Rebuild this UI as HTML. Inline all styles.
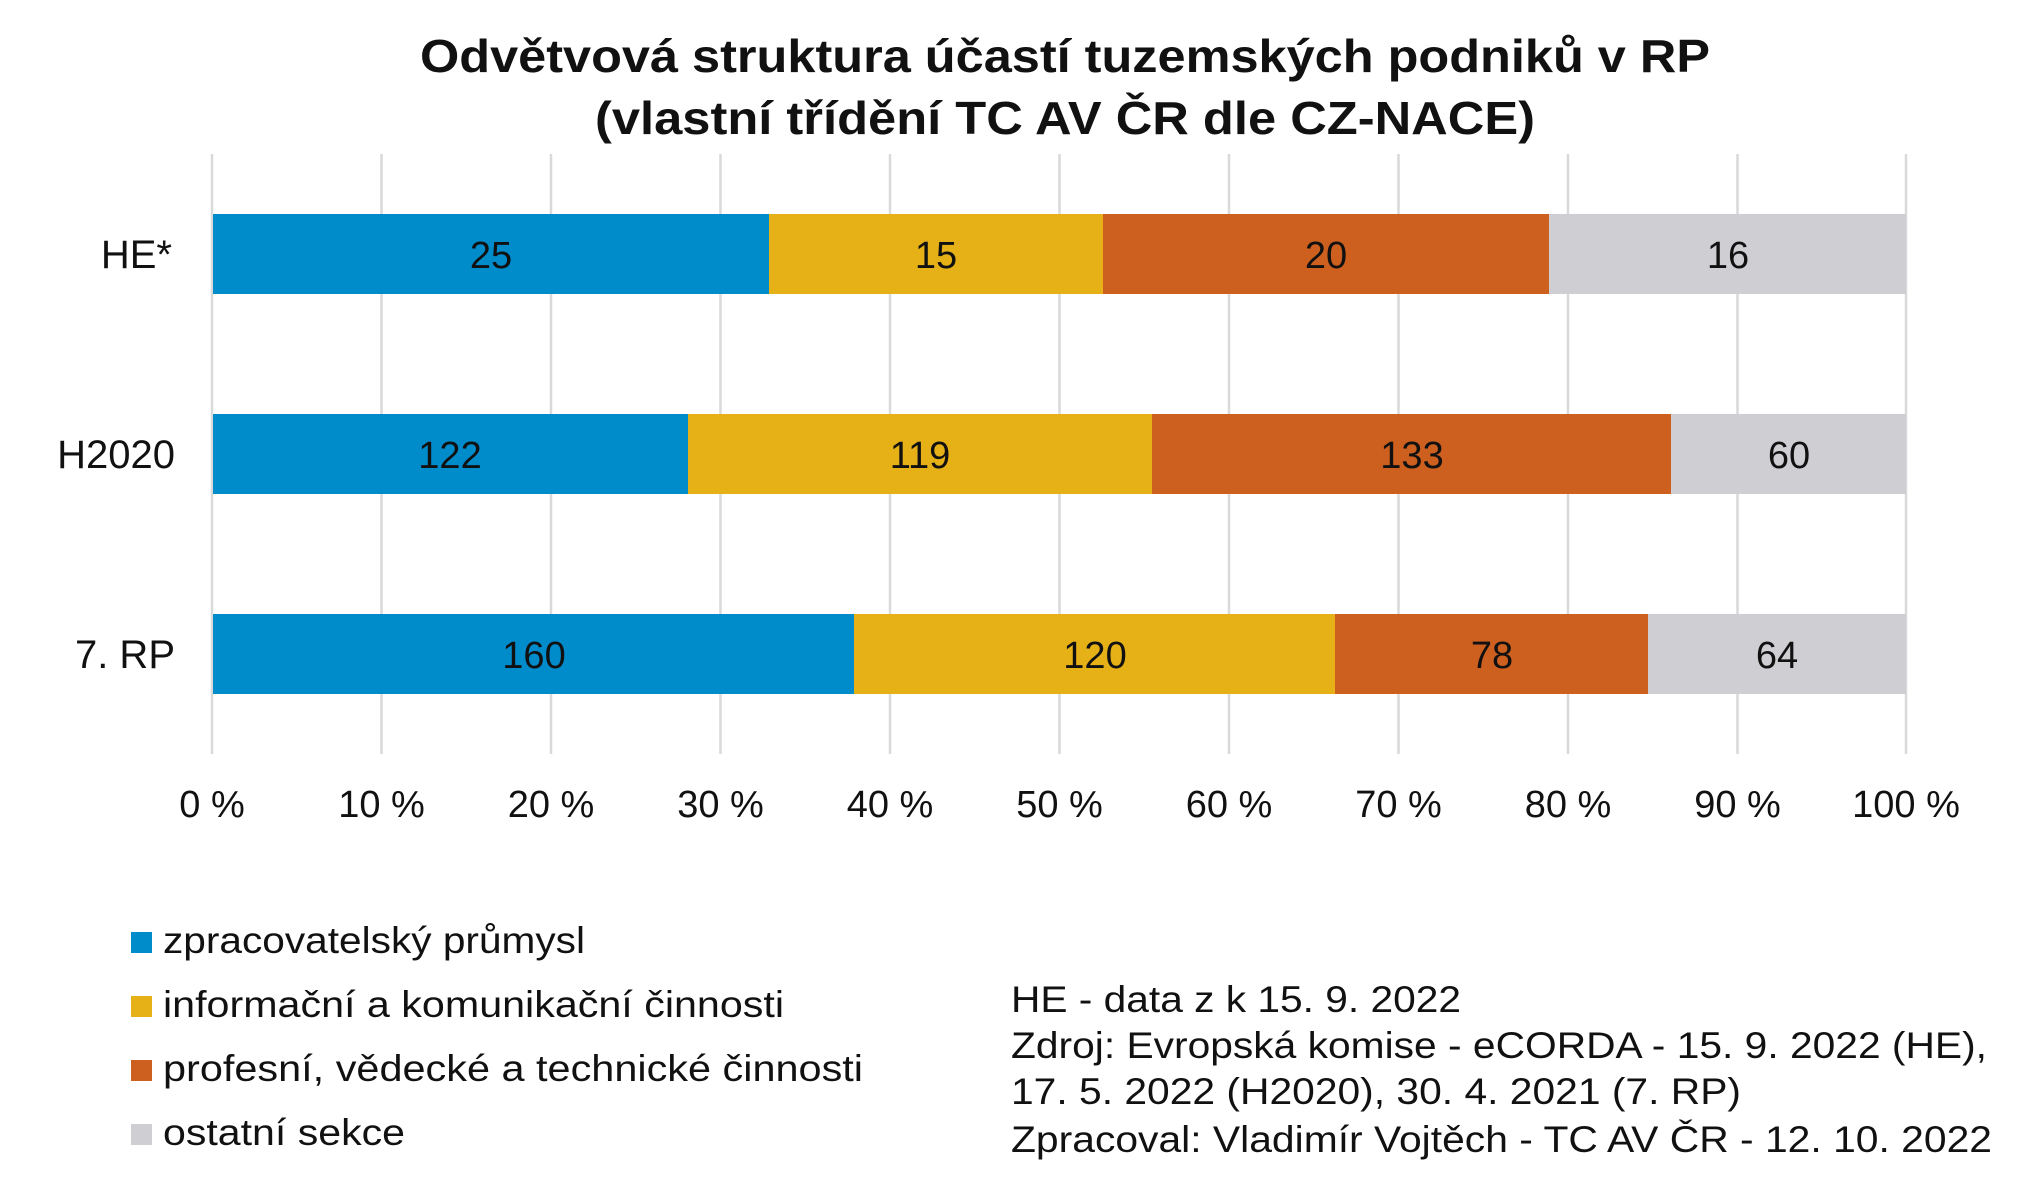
<!DOCTYPE html>
<html><head><meta charset="utf-8"><style>
html,body{margin:0;padding:0;background:#fff;}
svg{display:block;}
text{font-family:"Liberation Sans",sans-serif;fill:#111;}
</style></head><body>
<svg width="2031" height="1203" viewBox="0 0 2031 1203">
<g font-weight="bold" font-size="46" text-anchor="middle">
<text x="1065" y="72" textLength="1290" lengthAdjust="spacingAndGlyphs">Odvětvová struktura účastí tuzemských podniků v RP</text>
<text x="1065" y="134" textLength="940" lengthAdjust="spacingAndGlyphs">(vlastní třídění TC AV ČR dle CZ-NACE)</text>
</g>
<g stroke="#d9d9d9" stroke-width="2.5">
<line x1="212" y1="154" x2="212" y2="754"/><line x1="381.5" y1="154" x2="381.5" y2="754"/><line x1="551" y1="154" x2="551" y2="754"/><line x1="720.5" y1="154" x2="720.5" y2="754"/><line x1="890" y1="154" x2="890" y2="754"/><line x1="1059.5" y1="154" x2="1059.5" y2="754"/><line x1="1229" y1="154" x2="1229" y2="754"/><line x1="1398.5" y1="154" x2="1398.5" y2="754"/><line x1="1568" y1="154" x2="1568" y2="754"/><line x1="1737.5" y1="154" x2="1737.5" y2="754"/><line x1="1906" y1="154" x2="1906" y2="754"/>
</g>
<g>
<rect x="213" y="214" width="556" height="80" fill="#008BCB"/><rect x="769" y="214" width="334" height="80" fill="#E6B116"/><rect x="1103" y="214" width="446" height="80" fill="#CD5F1F"/><rect x="1549" y="214" width="357" height="80" fill="#CFCED3"/>
<rect x="213" y="414" width="475" height="80" fill="#008BCB"/><rect x="688" y="414" width="464" height="80" fill="#E6B116"/><rect x="1152" y="414" width="519" height="80" fill="#CD5F1F"/><rect x="1671" y="414" width="235" height="80" fill="#CFCED3"/>
<rect x="213" y="614" width="641" height="80" fill="#008BCB"/><rect x="854" y="614" width="481" height="80" fill="#E6B116"/><rect x="1335" y="614" width="313" height="80" fill="#CD5F1F"/><rect x="1648" y="614" width="258" height="80" fill="#CFCED3"/>
</g>
<g font-size="38" text-anchor="middle">
<text x="491" y="268">25</text><text x="936" y="268">15</text><text x="1326" y="268">20</text><text x="1728" y="268">16</text>
<text x="450" y="468">122</text><text x="920" y="468">119</text><text x="1412" y="468">133</text><text x="1789" y="468">60</text>
<text x="534" y="668">160</text><text x="1095" y="668">120</text><text x="1492" y="668">78</text><text x="1777" y="668">64</text>
</g>
<g font-size="40" text-anchor="end">
<text x="172" y="268">HE*</text><text x="175" y="468">H2020</text><text x="175" y="668">7. RP</text>
</g>
<g font-size="38" text-anchor="middle">
<text x="212" y="817">0 %</text><text x="381.5" y="817">10 %</text><text x="551" y="817">20 %</text><text x="720.5" y="817">30 %</text><text x="890" y="817">40 %</text><text x="1059.5" y="817">50 %</text><text x="1229" y="817">60 %</text><text x="1398.5" y="817">70 %</text><text x="1568" y="817">80 %</text><text x="1737.5" y="817">90 %</text><text x="1906" y="817">100 %</text>
</g>
<rect x="131" y="932" width="21" height="21" fill="#008BCB"/>
<rect x="131" y="996" width="21" height="21" fill="#E6B116"/>
<rect x="131" y="1060" width="21" height="21" fill="#CD5F1F"/>
<rect x="131" y="1124" width="21" height="21" fill="#CFCED3"/>
<g font-size="37">
<text x="163" y="953" textLength="422" lengthAdjust="spacingAndGlyphs">zpracovatelský průmysl</text>
<text x="163" y="1017" textLength="621" lengthAdjust="spacingAndGlyphs">informační a komunikační činnosti</text>
<text x="163" y="1081" textLength="700" lengthAdjust="spacingAndGlyphs">profesní, vědecké a technické činnosti</text>
<text x="163" y="1145" textLength="242" lengthAdjust="spacingAndGlyphs">ostatní sekce</text>
</g>
<g font-size="37">
<text x="1011" y="1012" textLength="450" lengthAdjust="spacingAndGlyphs">HE - data z k 15. 9. 2022</text>
<text x="1011" y="1058" textLength="976" lengthAdjust="spacingAndGlyphs">Zdroj: Evropská komise - eCORDA - 15. 9. 2022 (HE),</text>
<text x="1011" y="1104" textLength="730" lengthAdjust="spacingAndGlyphs">17. 5. 2022 (H2020), 30. 4. 2021 (7. RP)</text>
<text x="1011" y="1152" textLength="981" lengthAdjust="spacingAndGlyphs">Zpracoval: Vladimír Vojtěch - TC AV ČR - 12. 10. 2022</text>
</g>
</svg>
</body></html>
